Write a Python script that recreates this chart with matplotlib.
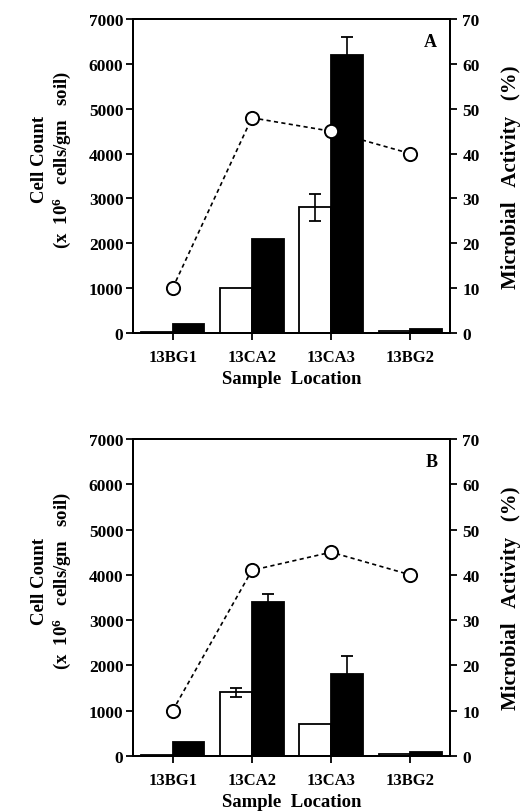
import numpy as np
import matplotlib.pyplot as plt

plt.rcParams['font.family'] = ['Liberation Serif', 'DejaVu Serif']
plt.rcParams['font.weight'] = 'bold'
plt.rcParams['mathtext.fontset'] = 'custom'
plt.rcParams['mathtext.rm'] = 'Liberation Serif:bold'
plt.rcParams['mathtext.bf'] = 'Liberation Serif:bold'
plt.rcParams['mathtext.default'] = 'bf'

locations = ["13BG1", "13CA2", "13CA3", "13BG2"]

# panel A
a_white = [20, 1000, 2800, 40]
a_white_err = [0, 0, 300, 0]
a_black = [200, 2100, 6200, 90]
a_black_err = [0, 0, 400, 0]
a_activity = [10, 48, 45, 40]

# panel B
b_white = [20, 1400, 700, 40]
b_white_err = [0, 100, 0, 0]
b_black = [300, 3400, 1800, 90]
b_black_err = [0, 180, 400, 0]
b_activity = [10, 41, 45, 40]

panels = [
    ("A", a_white, a_white_err, a_black, a_black_err, a_activity),
    ("B", b_white, b_white_err, b_black, b_black_err, b_activity),
]

fig = plt.figure(figsize=(5.22, 8.12), dpi=100)
rects = [[0.255, 0.589, 0.607, 0.386], [0.255, 0.068, 0.607, 0.390]]

x = np.arange(len(locations))
w = 0.4

for rect, (letter, white, werr, black, berr, act) in zip(rects, panels):
    ax = fig.add_axes(rect)
    ax.bar(x - w / 2, white, w, color="white", edgecolor="black", linewidth=1.3, zorder=2)
    ax.bar(x + w / 2, black, w, color="black", edgecolor="black", linewidth=1.3, zorder=2)
    for xi, v, e in zip(x - w / 2, white, werr):
        if e:
            ax.errorbar(xi, v, yerr=e, color="black", capsize=4, elinewidth=1.2, capthick=1.3, zorder=3)
    for xi, v, e in zip(x + w / 2, black, berr):
        if e:
            ax.errorbar(xi, v, yerr=e, color="black", capsize=4, elinewidth=1.2, capthick=1.3, zorder=3)
    ax.set_xlim(-0.5, 3.5)
    ax.set_ylim(0, 7000)
    ax.set_yticks(range(0, 7001, 1000))
    ax.set_xticks(x)
    ax.set_xticklabels(locations, fontsize=12, fontweight="bold")
    ax.tick_params(axis="y", labelsize=12.5, length=5, width=1.3, direction="out", pad=2)
    ax.tick_params(axis="x", length=5, width=1.3, direction="out", pad=7)
    for lab in ax.get_yticklabels():
        lab.set_fontweight("bold")
    for s in ax.spines.values():
        s.set_linewidth(1.4)
    ax.text(-0.295, 0.555, "Cell Count", transform=ax.transAxes, rotation=90,
            ha="center", va="center", fontsize=13.5, fontweight="bold")
    ax.text(-0.225, 0.555, "(x  10$^{6}$   cells/gm   soil)", transform=ax.transAxes, rotation=90,
            ha="center", va="center", fontsize=13.5, fontweight="bold")
    ax.set_xlabel("Sample  Location", fontsize=13.5, fontweight="bold", labelpad=3)

    ax2 = ax.twinx()
    ax2.set_ylim(0, 70)
    ax2.set_yticks(range(0, 71, 10))
    ax2.plot(x, act, linestyle=(0, (2.5, 2)), color="black", linewidth=1.2,
             marker="o", markersize=9.5, markerfacecolor="white",
             markeredgecolor="black", markeredgewidth=1.4, zorder=5)
    ax2.tick_params(axis="y", labelsize=12.5, length=5, width=1.3, direction="out", pad=4)
    for lab in ax2.get_yticklabels():
        lab.set_fontweight("bold")
    for s in ax2.spines.values():
        s.set_linewidth(1.4)
    ax2.text(1.192, 0.5, "Microbial   Activity   (%)", transform=ax2.transAxes, rotation=90,
             ha="center", va="center", fontsize=15, fontweight="bold")
    ax2.text(0.96, 0.955, letter, transform=ax2.transAxes, ha="right", va="top",
             fontsize=13, fontweight="bold")

fig.savefig("out.png", dpi=100)
